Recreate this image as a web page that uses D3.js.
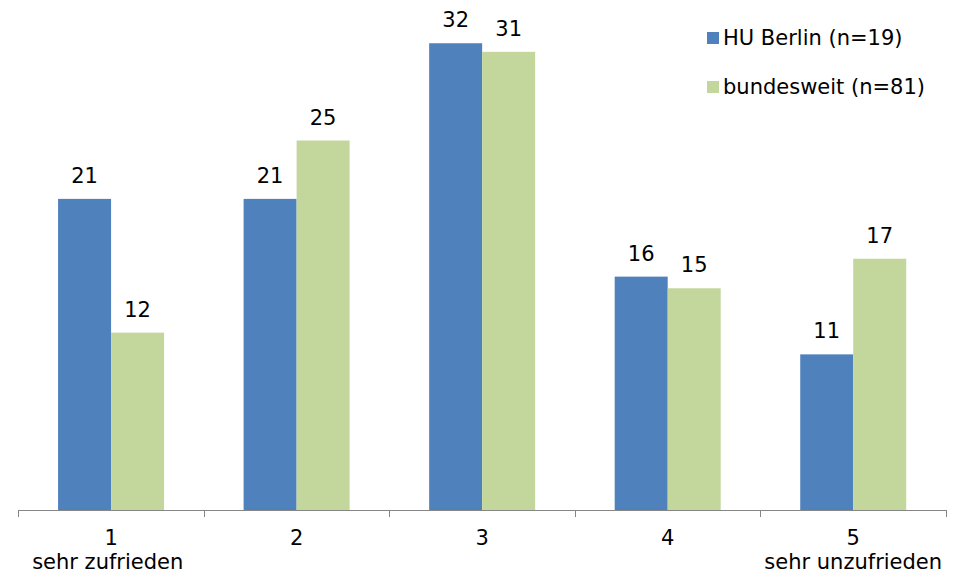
<!DOCTYPE html>
<html><head><meta charset="utf-8">
<script src="https://cdn.jsdelivr.net/npm/d3@7"></script>
<style>body{margin:0;background:#fff}svg{display:block}text{font-family:"DejaVu Sans",Verdana,sans-serif;fill:#000;white-space:pre}</style>
</head><body><svg id="c" width="957" height="574"></svg>
<script>
const categories = ["1", "2", "3", "4", "5"];
const categorySubLabels = ["sehr zufrieden ", "", "", "", "sehr unzufrieden"];
const seriesNames = ["HU Berlin (n=19)", "bundesweit (n=81)"];
const huBerlin = [21.05, 21.05, 31.58, 15.79, 10.53];
const bundesweit = [12, 25, 31, 15, 17];
const colors = ["#4F81BD", "#C3D69B"];

const svg = d3.select("#c");
const fs = 21;
const left = 18.3, right = 946, base = 510;
const x = d3.scaleBand().domain(categories).range([left, right]);
const groupW = 106;
const xs = d3.scaleBand().domain([0, 1]).range([(x.bandwidth() - groupW) / 2, (x.bandwidth() + groupW) / 2]);
const y = d3.scaleLinear().domain([0, 34]).range([base, base - 34 * 14.78]);

const series = [huBerlin, bundesweit];
series.forEach((vals, si) => {
  const g = svg.append("g");
  g.selectAll("rect").data(vals).enter().append("rect")
    .attr("x", (d, i) => x(categories[i]) + xs(si))
    .attr("width", xs.bandwidth())
    .attr("y", d => y(d))
    .attr("height", d => base - y(d))
    .attr("fill", colors[si]);
  g.selectAll("text").data(vals).enter().append("text")
    .attr("x", (d, i) => x(categories[i]) + xs(si) + xs.bandwidth() / 2)
    .attr("y", d => y(d) - 16)
    .attr("text-anchor", "middle")
    .attr("font-size", fs)
    .text(d => d3.format(".0f")(d));
});

// axis
const ag = svg.append("g");
ag.append("line").attr("x1", left).attr("x2", right).attr("y1", base + 0.5).attr("y2", base + 0.5).attr("stroke", "#868686");
const bounds = categories.map(c => x(c)).concat([right]);
ag.selectAll("line.t").data(bounds).enter().append("line").attr("class", "t")
  .attr("x1", d => Math.round(d) + 0.5).attr("x2", d => Math.round(d) + 0.5)
  .attr("y1", base).attr("y2", base + 7).attr("stroke", "#868686");
ag.selectAll("text.c").data(categories).enter().append("text").attr("class", "c")
  .attr("x", d => x(d) + x.bandwidth() / 2).attr("y", 545)
  .attr("text-anchor", "middle").attr("font-size", fs).text(d => d);
ag.selectAll("text.s").data(categorySubLabels).enter().append("text").attr("class", "s")
  .attr("x", (d, i) => x(categories[i]) + x.bandwidth() / 2).attr("y", 569)
  .attr("text-anchor", "middle").attr("font-size", fs).text(d => d);

// legend
const lg = svg.append("g");
seriesNames.forEach((n, i) => {
  lg.append("rect").attr("x", 707).attr("y", 32 + i * 49).attr("width", 12).attr("height", 12).attr("fill", colors[i]);
  lg.append("text").attr("x", 723).attr("y", 45 + i * 48.5).attr("font-size", fs).text(n);
});
</script></body></html>
